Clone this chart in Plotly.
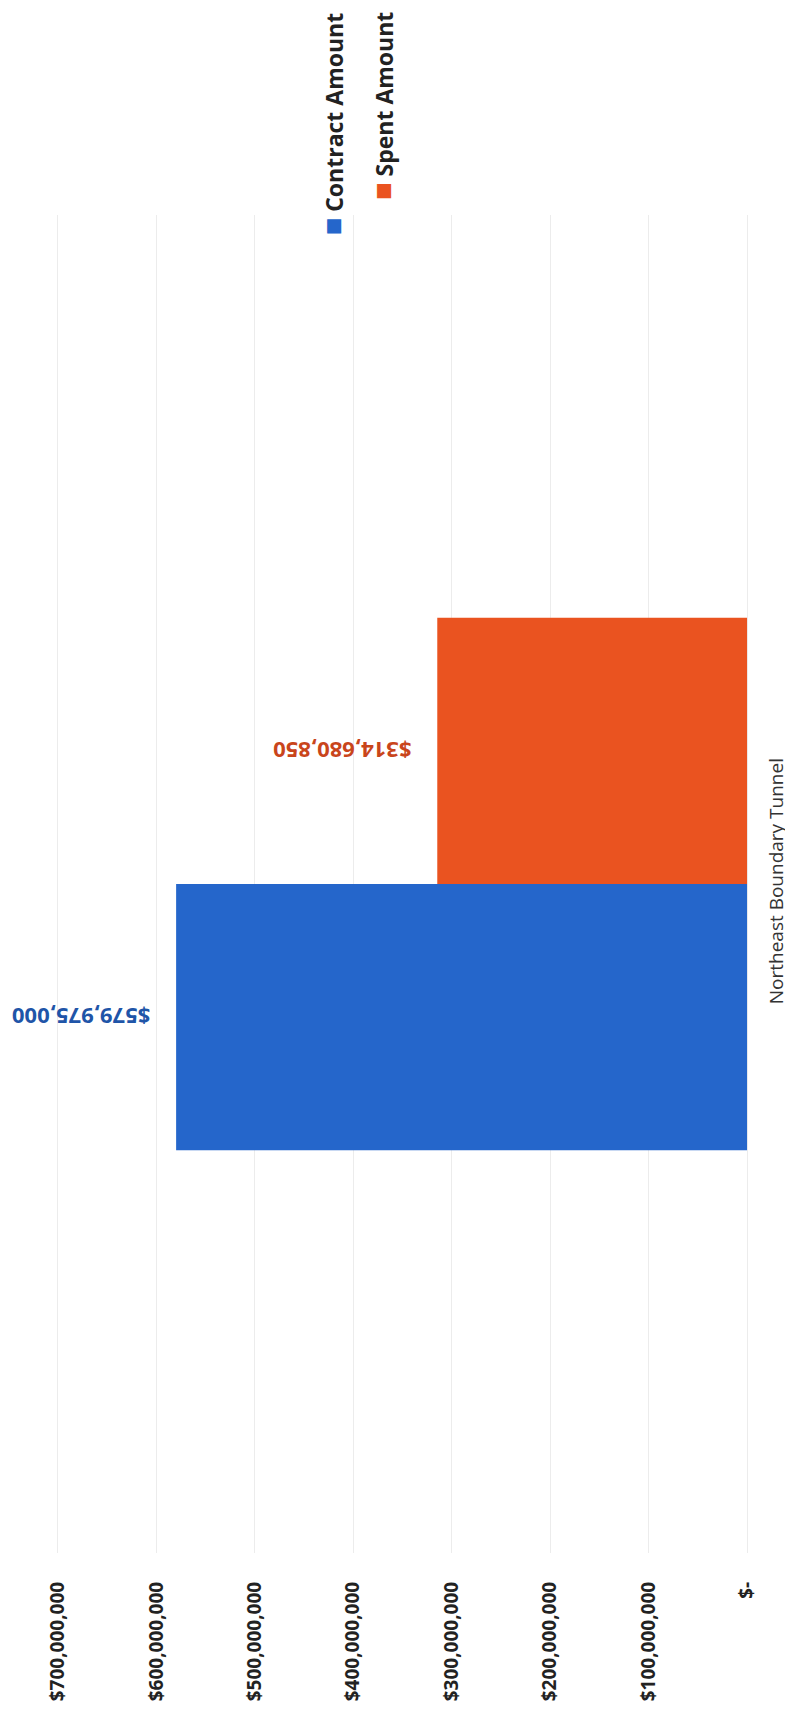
import plotly.graph_objects as go

categories = ["Northeast Boundary Tunnel"]
contract_amount = [579975000]
spent_amount = [314680850]
series_names = ["Contract Amount", "Spent Amount"]
tick_values = [0, 100000000, 200000000, 300000000, 400000000, 500000000, 600000000, 700000000]
tick_labels = ["$-", "$100,000,000", "$200,000,000", "$300,000,000", "$400,000,000",
               "$500,000,000", "$600,000,000", "$700,000,000"]

BLUE = "#2566cb"
ORANGE = "#ea5320"
BLUE_TXT = "#1f55a8"
ORANGE_TXT = "#c9451b"
PAD = "\u00a0\u00a0\u00a0\u00a0"

fig = go.Figure()
fig.add_trace(go.Bar(
    y=categories, x=contract_amount, orientation="h", name=series_names[0],
    marker=dict(color=BLUE, line=dict(width=0)),
    texttemplate=PAD + "$%{x:,}", textposition="outside", textangle=180,
    textfont=dict(family="Open Sans", size=22, color=BLUE_TXT, weight="bold"),
    cliponaxis=False, showlegend=False,
))
fig.add_trace(go.Bar(
    y=categories, x=spent_amount, orientation="h", name=series_names[1],
    marker=dict(color=ORANGE, line=dict(width=0)),
    texttemplate=PAD + "$%{x:,}", textposition="outside", textangle=180,
    textfont=dict(family="Open Sans", size=22, color=ORANGE_TXT, weight="bold"),
    cliponaxis=False, showlegend=False,
))

# rotated legend (text reads bottom-to-top, swatch below the text)
for i, (name, col) in enumerate(zip(series_names, [BLUE, ORANGE])):
    fig.add_annotation(
        x=[0.398, 0.469][i], xref="paper", y=1.0, yref="paper",
        yshift=205, yanchor="top", xanchor="center",
        text=f"<span style='color:{col};font-size:29px'>■</span> {name}",
        textangle=-90, showarrow=False,
        font=dict(family="Open Sans", size=23, color="#222222", weight="bold"),
    )

fig.update_layout(
    width=793, height=1728,
    margin=dict(l=48, r=41, t=207, b=183),
    paper_bgcolor="white", plot_bgcolor="white",
    barmode="group", bargap=0.602, bargroupgap=0,
    font=dict(family="Open Sans", color="#222222"),
    showlegend=False,
)
fig.update_xaxes(
    range=[702000000, -2000000], tickvals=tick_values, ticktext=tick_labels,
    tickangle=-90, showgrid=True, gridcolor="#ececec", gridwidth=1,
    zeroline=False, showline=False, ticks="", ticklabelstandoff=24,
    tickfont=dict(family="Open Sans", size=19, color="#222222", weight="bold"),
)
fig.update_yaxes(
    side="right", tickangle=-90, showgrid=False, zeroline=False, showline=False,
    ticks="", ticklabelstandoff=14,
    tickfont=dict(family="Open Sans", size=19, color="#333333"),
)

fig.write_html("out.html")
